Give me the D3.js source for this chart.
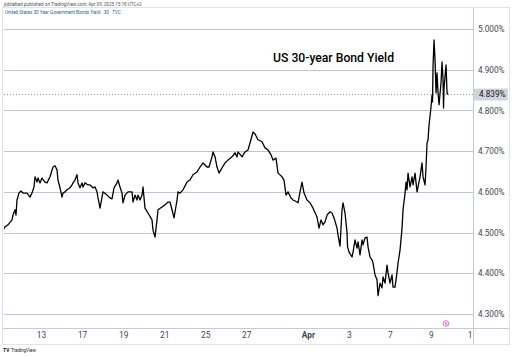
<!DOCTYPE html>
<html><head><meta charset="utf-8">
<script src="https://cdn.jsdelivr.net/npm/d3@7"></script>
<style>html,body{margin:0;padding:0;background:#fff;overflow:hidden}</style>
</head><body>
<svg id="c" width="512" height="356"></svg>
<script>
// ---- data ----
const tickDays   = [2, 4, 6, 8, 10, 12, 15, 17, 19, 21, 23];   // trading-day index (Mar 11 = 0)
const tickLabels = ["13", "17", "19", "21", "25", "27", "Apr", "3", "7", "9", "11"];
const yTicks = [4.3, 4.4, 4.5, 4.6, 4.7, 4.8, 4.9, 5.0];
const lastValue = 4.839;
const times = [
 0.146,0.244,0.390,0.585,0.634,0.731,0.780,0.828,0.926,1.023,1.121,1.316,1.462,1.559,1.657,1.706,1.803,1.852,1.949,2.047,
 2.193,2.290,2.437,2.583,2.680,2.778,2.827,2.924,3.021,3.070,3.168,3.265,3.411,3.509,3.558,3.655,3.752,3.801,3.899,3.996,
 4.045,4.142,4.288,4.386,4.532,4.630,4.727,4.776,4.873,4.971,5.019,5.214,5.361,5.458,5.556,5.702,5.750,5.848,5.945,5.994,
 6.092,6.238,6.433,6.482,6.579,6.676,6.725,6.823,6.920,6.969,7.066,7.212,7.407,7.456,7.554,7.651,7.700,7.895,8.041,8.187,
 8.285,8.382,8.480,8.626,8.674,8.772,8.918,9.113,9.259,9.405,9.600,9.747,9.893,10.088,10.185,10.331,10.380,10.478,10.575,10.673,
 10.819,10.965,11.111,11.306,11.452,11.550,11.598,11.793,11.940,12.086,12.183,12.329,12.427,12.573,12.768,12.914,13.060,13.207,13.304,13.450,
 13.548,13.743,13.840,13.938,14.035,14.181,14.279,14.474,14.522,14.620,14.717,14.815,14.961,15.107,15.253,15.448,15.546,15.643,15.741,15.838,
 15.936,16.082,16.179,16.277,16.423,16.472,16.520,16.569,16.667,16.715,16.813,16.910,16.935,17.008,17.154,17.203,17.300,17.398,17.446,17.544,
 17.641,17.690,17.788,17.885,17.934,18.031,18.129,18.177,18.275,18.372,18.421,18.519,18.616,18.665,18.762,18.860,18.908,19.006,19.103,19.152,
 19.250,19.347,19.396,19.493,19.591,19.639,19.737,19.786,19.834,19.883,19.981,20.078,20.127,20.224,20.322,20.370,20.468,20.565,20.614,20.712,
 20.760,20.809,20.858,20.906,21.004,21.053,21.077,21.101,21.150,21.199,21.248,21.296,21.345,21.394,21.491,21.540,21.589,21.613,21.637,21.735,
 21.784,21.832
];
const yields = [
 4.506,4.514,4.519,4.531,4.543,4.556,4.543,4.580,4.597,4.602,4.597,4.597,4.587,4.597,4.612,4.637,4.624,4.634,4.622,4.634,
 4.624,4.622,4.637,4.661,4.664,4.654,4.629,4.610,4.587,4.597,4.600,4.605,4.610,4.617,4.622,4.629,4.642,4.622,4.610,4.622,
 4.612,4.622,4.617,4.617,4.610,4.612,4.600,4.585,4.560,4.587,4.600,4.592,4.585,4.583,4.610,4.622,4.629,4.612,4.597,4.573,
 4.592,4.600,4.600,4.575,4.592,4.580,4.592,4.580,4.592,4.612,4.560,4.548,4.531,4.506,4.489,4.531,4.556,4.563,4.568,4.575,
 4.575,4.556,4.536,4.580,4.600,4.597,4.605,4.624,4.629,4.642,4.649,4.661,4.671,4.661,4.661,4.686,4.698,4.686,4.661,4.646,
 4.659,4.671,4.678,4.686,4.696,4.686,4.698,4.686,4.698,4.703,4.720,4.747,4.742,4.728,4.723,4.708,4.703,4.691,4.678,4.683,
 4.646,4.637,4.629,4.592,4.600,4.585,4.580,4.575,4.573,4.600,4.624,4.597,4.580,4.573,4.560,4.538,4.511,4.531,4.519,4.526,
 4.543,4.551,4.548,4.536,4.511,4.494,4.480,4.467,4.556,4.573,4.548,4.499,4.465,4.452,4.440,4.452,4.482,4.462,4.477,4.445,
 4.482,4.470,4.487,4.489,4.465,4.440,4.433,4.425,4.396,4.384,4.345,4.376,4.364,4.391,4.376,4.420,4.401,4.376,4.396,4.366,
 4.366,4.403,4.425,4.457,4.511,4.556,4.597,4.624,4.605,4.646,4.612,4.637,4.617,4.646,4.600,4.612,4.637,4.671,4.637,4.617,
 4.661,4.720,4.728,4.764,4.809,4.838,4.821,4.907,4.973,4.924,4.843,4.892,4.843,4.814,4.868,4.919,4.875,4.806,4.855,4.912,
 4.843,4.839
];

// ---- layout ----
const plotL = 4, plotR = 473, plotT = 19, plotB = 328;
const svg = d3.select("#c");
const font = "Roboto, 'DejaVu Sans', sans-serif";

const x = d3.scaleLinear().domain([0, 23]).range([0, 472]);
const y = d3.scaleLinear().domain([4.3, 5.0]).range([314, 29]);

// frame
svg.append("rect").attr("x", 2.5).attr("y", 7.5).attr("width", 507).attr("height", 337)
  .attr("fill", "#fff").attr("stroke", "#e0e3eb").attr("stroke-width", 1);

// header
svg.append("text").attr("x", 4).attr("y", 5.5).attr("font-family", font).attr("font-size", 4.6)
  .attr("fill", "#50535e").text("jidolebad published on TradingView.com, Apr 09, 2025 15:18 UTC+2");
svg.append("text").attr("x", 5).attr("y", 14).attr("font-family", font).attr("font-size", 4.6)
  .attr("fill", "#2a5caa").text("United States 30 Year Government Bonds Yield · 30 · TVC");

const defs = svg.append("defs");
defs.append("clipPath").attr("id", "plotClip").append("rect")
  .attr("x", plotL).attr("y", plotT).attr("width", plotR - plotL).attr("height", plotB - plotT);
defs.append("clipPath").attr("id", "axClip").append("rect")
  .attr("x", 0).attr("y", 0).attr("width", plotR).attr("height", 16);

// gridlines
svg.append("g").selectAll("line").data(yTicks).join("line")
  .attr("x1", plotL).attr("x2", plotR)
  .attr("y1", d => Math.round(y(d)) + 0.5).attr("y2", d => Math.round(y(d)) + 0.5)
  .attr("stroke", "#bcc7d3").attr("stroke-width", 1.2);

// axes lines
svg.append("line").attr("x1", plotR + 0.5).attr("x2", plotR + 0.5).attr("y1", 8).attr("y2", 344)
  .attr("stroke", "#c3cbd6").attr("stroke-width", 1);
svg.append("line").attr("x1", 3).attr("x2", 509).attr("y1", plotB + 0.5).attr("y2", plotB + 0.5)
  .attr("stroke", "#c3cbd6").attr("stroke-width", 1);

// right axis
const yAxis = d3.axisRight(y).tickValues(yTicks).tickSize(0).tickPadding(5)
  .tickFormat(d => d3.format(".3f")(d) + "%");
const gy = svg.append("g").attr("transform", `translate(${plotR},0)`).call(yAxis);
gy.select(".domain").remove();
gy.selectAll("text").attr("font-family", font).attr("font-size", 8.2).attr("fill", "#434651");

// bottom axis
const xAxis = d3.axisBottom(x).tickValues(tickDays).tickSize(0).tickPadding(4)
  .tickFormat((d, i) => tickLabels[i]);
const gx = svg.append("g").attr("transform", `translate(0,${plotB})`).attr("clip-path", "url(#axClip)").call(xAxis);
gx.select(".domain").remove();
gx.selectAll("text").attr("font-family", font).attr("font-size", 8.4).attr("fill", "#434651")
  .attr("font-weight", (d, i) => tickLabels[i] === "Apr" ? 700 : 400);

// last price dotted line
svg.append("line").attr("x1", plotL).attr("x2", plotR)
  .attr("y1", y(lastValue)).attr("y2", y(lastValue))
  .attr("stroke", "#787b86").attr("stroke-width", 0.8).attr("stroke-dasharray", "1,2");

// series line
const pts = times.map((t, i) => [t, yields[i]]);
svg.append("path").datum(pts).attr("clip-path", "url(#plotClip)")
  .attr("fill", "none").attr("stroke", "#000").attr("stroke-width", 1.3).attr("stroke-linejoin", "round")
  .attr("d", d3.line().x(d => x(d[0])).y(d => y(d[1])));

// price label
svg.append("rect").attr("x", plotR + 1).attr("y", y(lastValue) - 6).attr("width", 34).attr("height", 12)
  .attr("fill", "#d1d4dc");
svg.append("text").attr("x", plotR + 6).attr("y", y(lastValue)).attr("dy", "0.35em")
  .attr("font-family", font).attr("font-size", 8.2).attr("fill", "#131722").text(d3.format(".3f")(lastValue) + "%");

// title
svg.append("text").attr("x", 273).attr("y", 62).attr("font-family", font).attr("font-size", 12.2)
  .attr("font-weight", 500).attr("fill", "#000").text("US 30-year Bond Yield");

// event marker
svg.append("circle").attr("cx", 446).attr("cy", 323.5).attr("r", 2.8)
  .attr("fill", "#f7e1f5").attr("stroke", "#d46ccc").attr("stroke-width", 0.9);
svg.append("circle").attr("cx", 446).attr("cy", 323.5).attr("r", 1).attr("fill", "#d46ccc");

// footer logo
svg.append("text").attr("x", 3).attr("y", 352).attr("font-family", font).attr("font-size", 5)
  .attr("font-weight", 700).attr("fill", "#131722").text("TV");
svg.append("text").attr("x", 11).attr("y", 352).attr("font-family", font).attr("font-size", 4.5)
  .attr("fill", "#131722").text("TradingView");
</script>
</body></html>
